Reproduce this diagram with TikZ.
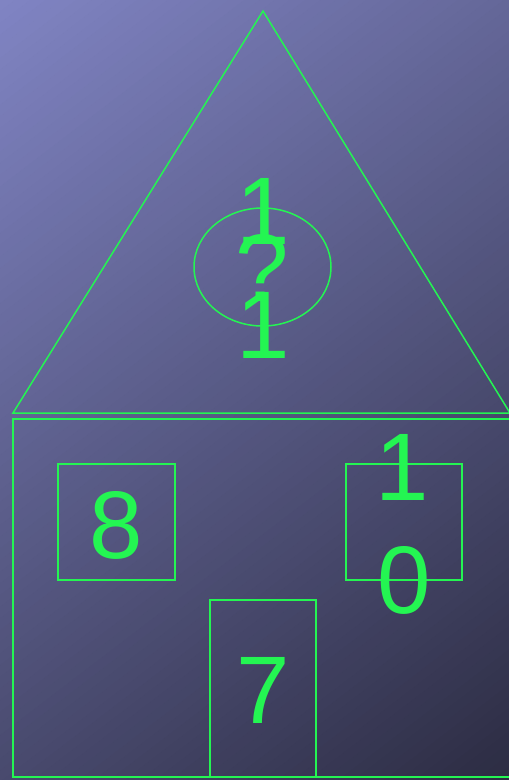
\documentclass[tikz,border=0pt]{standalone}
\usepackage{fontspec}
\setmainfont{Liberation Sans}
\usetikzlibrary{shapes.geometric}
\definecolor{bgA}{HTML}{8084C3}
\definecolor{bgB}{HTML}{2C2C42}
\definecolor{lgreen}{HTML}{24F552}
\tikzset{
  outline/.style={draw=lgreen, line width=1.5pt},
  digit/.style={text=lgreen, inner sep=0pt, anchor=base, font=\fontsize{96}{115}\selectfont},
}
\begin{document}
\begin{tikzpicture}[x=1pt,y=-1pt]
\useasboundingbox (0,0) rectangle (509,780);
\begin{scope}
  \clip (0,0) rectangle (509,780);
  \fill[bgB] (0,0) rectangle (509,780);
  \foreach \k in {0,...,99} {
    \pgfmathsetmacro{\pa}{\k*9.28}
    \pgfmathsetmacro{\pb}{(\k+1)*9.28+0.6}
    \fill[bgB!\k!bgA] ({\pa*0.607+800*0.794},{\pa*0.794-800*0.607}) -- ({\pb*0.607+800*0.794},{\pb*0.794-800*0.607}) -- ({\pb*0.607-800*0.794},{\pb*0.794+800*0.607}) -- ({\pa*0.607-800*0.794},{\pa*0.794+800*0.607}) -- cycle;
  }
\end{scope}
% roof
\coordinate (apex) at (263,11);
\coordinate (roofL) at (13,413);
\coordinate (roofR) at (510,413);
\draw[outline] (roofL) -- (apex) -- (roofR) -- cycle;
\node[outline, ellipse, minimum width=137pt, minimum height=118pt, inner sep=0pt] (oval) at (262.5,267) {};
% house
\node[outline, rectangle, minimum width=498pt, minimum height=358pt, inner sep=0pt] (house) at (262,598) {};
\node[outline, rectangle, minimum width=117pt, minimum height=116pt, inner sep=0pt] (winL) at (116.5,522) {};
\node[outline, rectangle, minimum width=116pt, minimum height=116pt, inner sep=0pt] (winR) at (404,522) {};
\node[outline, rectangle, minimum width=106pt, minimum height=177pt, inner sep=0pt] (door) at (263,688.5) {};
% texts
\node[digit] (t1) at (263,244) {1};
\node[digit] (tq) at (262,301) {?};
\node[digit] (t2) at (263,358) {1};
\node[digit] (d8) at (116,558) {8};
\node[digit] (w1) at (402,500) {1};
\node[digit] (w0) at (404,613) {0};
\node[digit] (d7) at (263,723) {7};
\end{tikzpicture}
\end{document}
